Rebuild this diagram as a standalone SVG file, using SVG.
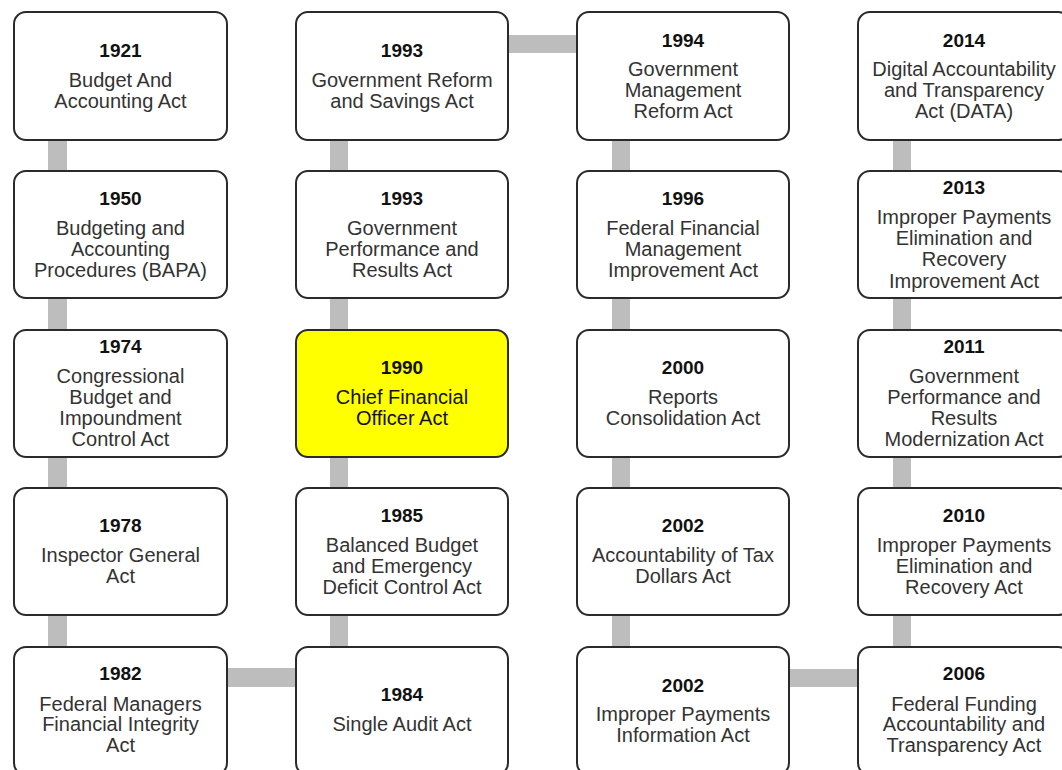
<svg xmlns="http://www.w3.org/2000/svg" width="1062" height="770" viewBox="0 0 1062 770">
<style>
.box{fill:#ffffff;stroke:#2a2a2a;stroke-width:2}
.hl{fill:#ffff00}
.conn{fill:#bdbdbd}
text{font-family:"Liberation Sans",Arial,sans-serif;text-anchor:middle;fill:#333333}
.yr{font-size:19px;font-weight:bold;fill:#111111}
.tx{font-size:20px}
.hlt{fill:#111111}
</style>
<rect width="1062" height="770" fill="#ffffff"/>
<g id="connectors">
<rect class="conn" x="48" y="130" width="19" height="530"/>
<rect class="conn" x="330" y="130" width="18" height="530"/>
<rect class="conn" x="612" y="130" width="18" height="530"/>
<rect class="conn" x="893" y="130" width="18" height="530"/>
<rect class="conn" x="500" y="35" width="85" height="18"/>
<rect class="conn" x="220" y="668" width="85" height="19"/>
<rect class="conn" x="782" y="669" width="85" height="18"/>
</g>
<g id="n1921"><rect class="box" x="14" y="12" width="213" height="128" rx="12"/>
<text class="yr" x="120.5" y="57">1921</text>
<text class="tx" x="120.5" y="87">Budget And</text>
<text class="tx" x="120.5" y="108">Accounting Act</text></g>
<g id="n1993a"><rect class="box" x="296" y="12" width="212" height="128" rx="12"/>
<text class="yr" x="402" y="57">1993</text>
<text class="tx" x="402" y="87">Government Reform</text>
<text class="tx" x="402" y="108">and Savings Act</text></g>
<g id="n1994"><rect class="box" x="577" y="12" width="212" height="128" rx="12"/>
<text class="yr" x="683" y="47">1994</text>
<text class="tx" x="683" y="76">Government</text>
<text class="tx" x="683" y="97">Management</text>
<text class="tx" x="683" y="118">Reform Act</text></g>
<g id="n2014"><rect class="box" x="858" y="12" width="212" height="128" rx="12"/>
<text class="yr" x="964" y="47">2014</text>
<text class="tx" x="964" y="76">Digital Accountability</text>
<text class="tx" x="964" y="97">and Transparency</text>
<text class="tx" x="964" y="118">Act (DATA)</text></g>

<g id="n1950"><rect class="box" x="14" y="171" width="213" height="127" rx="12"/>
<text class="yr" x="120.5" y="205">1950</text>
<text class="tx" x="120.5" y="235">Budgeting and</text>
<text class="tx" x="120.5" y="256">Accounting</text>
<text class="tx" x="120.5" y="277">Procedures (BAPA)</text></g>
<g id="n1993b"><rect class="box" x="296" y="171" width="212" height="127" rx="12"/>
<text class="yr" x="402" y="205">1993</text>
<text class="tx" x="402" y="235">Government</text>
<text class="tx" x="402" y="256">Performance and</text>
<text class="tx" x="402" y="277">Results Act</text></g>
<g id="n1996"><rect class="box" x="577" y="171" width="212" height="127" rx="12"/>
<text class="yr" x="683" y="205">1996</text>
<text class="tx" x="683" y="235">Federal Financial</text>
<text class="tx" x="683" y="256">Management</text>
<text class="tx" x="683" y="277">Improvement Act</text></g>
<g id="n2013"><rect class="box" x="858" y="171" width="212" height="127" rx="12"/>
<text class="yr" x="964" y="194">2013</text>
<text class="tx" x="964" y="224">Improper Payments</text>
<text class="tx" x="964" y="245">Elimination and</text>
<text class="tx" x="964" y="266">Recovery</text>
<text class="tx" x="964" y="288">Improvement Act</text></g>

<g id="n1974"><rect class="box" x="14" y="330" width="213" height="127" rx="12"/>
<text class="yr" x="120.5" y="353">1974</text>
<text class="tx" x="120.5" y="383">Congressional</text>
<text class="tx" x="120.5" y="404">Budget and</text>
<text class="tx" x="120.5" y="425">Impoundment</text>
<text class="tx" x="120.5" y="446">Control Act</text></g>
<g id="n1990"><rect class="box hl" x="296" y="330" width="212" height="127" rx="12"/>
<text class="yr" x="402" y="374">1990</text>
<text class="tx hlt" x="402" y="404">Chief Financial</text>
<text class="tx hlt" x="402" y="425">Officer Act</text></g>
<g id="n2000"><rect class="box" x="577" y="330" width="212" height="127" rx="12"/>
<text class="yr" x="683" y="374">2000</text>
<text class="tx" x="683" y="404">Reports</text>
<text class="tx" x="683" y="425">Consolidation Act</text></g>
<g id="n2011"><rect class="box" x="858" y="330" width="212" height="127" rx="12"/>
<text class="yr" x="964" y="353">2011</text>
<text class="tx" x="964" y="383">Government</text>
<text class="tx" x="964" y="404">Performance and</text>
<text class="tx" x="964" y="425">Results</text>
<text class="tx" x="964" y="446">Modernization Act</text></g>

<g id="n1978"><rect class="box" x="14" y="488" width="213" height="127" rx="12"/>
<text class="yr" x="120.5" y="532">1978</text>
<text class="tx" x="120.5" y="562">Inspector General</text>
<text class="tx" x="120.5" y="583">Act</text></g>
<g id="n1985"><rect class="box" x="296" y="488" width="212" height="127" rx="12"/>
<text class="yr" x="402" y="522">1985</text>
<text class="tx" x="402" y="552">Balanced Budget</text>
<text class="tx" x="402" y="573">and Emergency</text>
<text class="tx" x="402" y="594">Deficit Control Act</text></g>
<g id="n2002a"><rect class="box" x="577" y="488" width="212" height="127" rx="12"/>
<text class="yr" x="683" y="532">2002</text>
<text class="tx" x="683" y="562">Accountability of Tax</text>
<text class="tx" x="683" y="583">Dollars Act</text></g>
<g id="n2010"><rect class="box" x="858" y="488" width="212" height="127" rx="12"/>
<text class="yr" x="964" y="522">2010</text>
<text class="tx" x="964" y="552">Improper Payments</text>
<text class="tx" x="964" y="573">Elimination and</text>
<text class="tx" x="964" y="594">Recovery Act</text></g>

<g id="n1982"><rect class="box" x="14" y="647" width="213" height="128" rx="12"/>
<text class="yr" x="120.5" y="680">1982</text>
<text class="tx" x="120.5" y="711">Federal Managers</text>
<text class="tx" x="120.5" y="731">Financial Integrity</text>
<text class="tx" x="120.5" y="752">Act</text></g>
<g id="n1984"><rect class="box" x="296" y="647" width="212" height="128" rx="12"/>
<text class="yr" x="402" y="701">1984</text>
<text class="tx" x="402" y="731">Single Audit Act</text></g>
<g id="n2002b"><rect class="box" x="577" y="647" width="212" height="128" rx="12"/>
<text class="yr" x="683" y="692">2002</text>
<text class="tx" x="683" y="721">Improper Payments</text>
<text class="tx" x="683" y="742">Information Act</text></g>
<g id="n2006"><rect class="box" x="858" y="647" width="212" height="128" rx="12"/>
<text class="yr" x="964" y="680">2006</text>
<text class="tx" x="964" y="711">Federal Funding</text>
<text class="tx" x="964" y="731">Accountability and</text>
<text class="tx" x="964" y="752">Transparency Act</text></g>
</svg>
